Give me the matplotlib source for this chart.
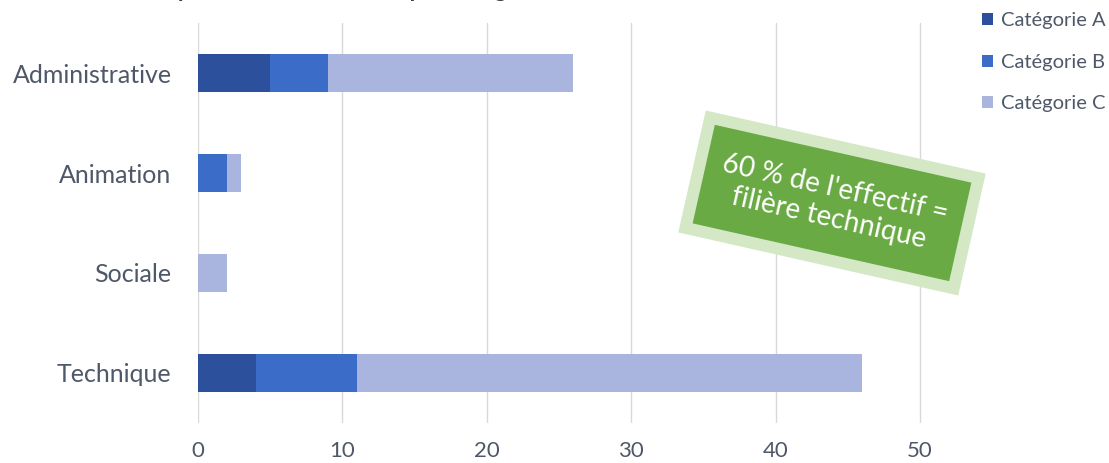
import matplotlib.pyplot as plt
from matplotlib.patches import Rectangle
from matplotlib.transforms import Affine2D, IdentityTransform
import numpy as np

# effectifs par filière et par catégorie
filieres = ["Administrative", "Animation", "Sociale", "Technique"]
cat_a = [5, 0, 0, 4]
cat_b = [4, 2, 0, 7]
cat_c = [17, 1, 2, 35]
noms_cat = ["Catégorie A", "Catégorie B", "Catégorie C"]
couleurs = ["#2d509c", "#3b6cc7", "#a9b5de"]

gris = "#4f5868"
plt.rcParams['font.family'] = ['Lato', 'DejaVu Sans']

W, H = 1109, 463
fig = plt.figure(figsize=(W / 100, H / 100), dpi=100)
ax = fig.add_axes([198 / W, 40 / H, 810 / W, 400 / H])

y = np.arange(len(filieres))
gauche = np.zeros(len(filieres))
barres = []
for vals, nom, c in zip([cat_a, cat_b, cat_c], noms_cat, couleurs):
    b = ax.barh(y, vals, left=gauche, height=0.38, color=c, label=nom, zorder=2)
    barres.append(b)
    gauche += np.array(vals)

ax.set_ylim(len(filieres) - 0.5, -0.5)
ax.set_xlim(0, 810 / 14.44)
ax.set_xticks(range(0, 60, 10))
ax.set_yticks(y)
ax.set_yticklabels(filieres)
ax.grid(axis='x', color='#d9d9d9', lw=1, zorder=0)
for s in ax.spines.values():
    s.set_visible(False)
ax.tick_params(length=0, colors=gris)
ax.tick_params(axis='y', pad=19, labelsize=18)
ax.tick_params(axis='x', pad=13, labelsize=16)

# titre (coupé en haut)
fig.text(150 / W, 1 + 3 / H, "Répartition des effectifs par catégorie",
         fontsize=17, fontweight='bold', color='#404040', va='baseline')

fig.legend(handles=barres, labels=noms_cat, loc='upper left',
           bbox_to_anchor=(964 / W, 1 + 6 / H), frameon=False,
           fontsize=14.5, labelcolor=gris, handlelength=0.55, handleheight=0.55,
           handletextpad=0.4, labelspacing=1.22)

# encadré vert incliné
cx, cy = 832, H - 203
ang = -12.7
rot = Affine2D().rotate_deg_around(cx, cy, ang) + IdentityTransform()
w, h = 263, 101
fig.patches.append(Rectangle((cx - w / 2 - 12, cy - h / 2 - 12), w + 24, h + 24,
                             transform=rot, facecolor='#d4e8c6', edgecolor='none'))
fig.patches.append(Rectangle((cx - w / 2, cy - h / 2), w, h,
                             transform=rot, facecolor='#6aaa44', edgecolor='none'))
fig.text(cx / W, cy / H, "60 % de l'effectif =\nfilière technique",
         rotation=ang, rotation_mode='anchor', ha='center', va='center',
         color='white', fontsize=20, linespacing=1.2)

fig.savefig("out.png", dpi=100)
